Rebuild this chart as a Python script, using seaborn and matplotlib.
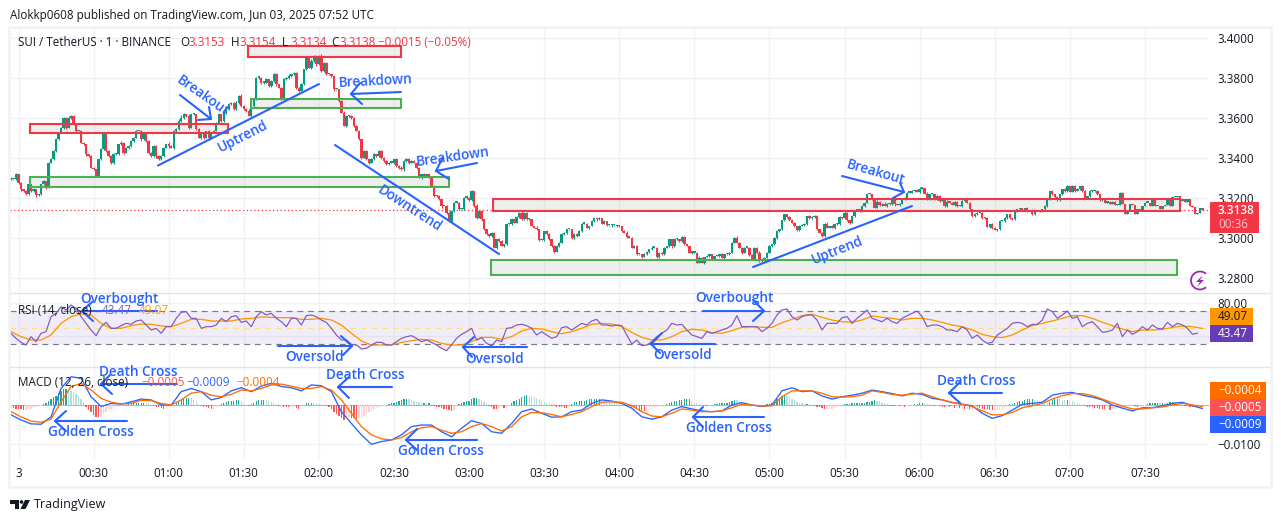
import numpy as np
import matplotlib
matplotlib.use("Agg")
import matplotlib.pyplot as plt
from matplotlib.patches import Rectangle, Polygon, Arc, Circle
import seaborn as sns

# ---------- data ----------
close_a = [3.3293,3.3293,3.3318,3.3276,3.3243,3.3235,3.3221,3.3268,3.3235,3.3243,3.3213,3.3218,3.3268,3.3285,3.3251,3.3376,
3.3393,3.3435,3.3493,3.3526,3.3551,3.3601,3.3551,3.3601,3.3610,3.3568,3.3535,3.3535,3.3476,3.3468,3.3418,3.3410,3.3351,3.3343,3.3310,
3.3393,3.3443,3.3518,3.3435,3.3410,3.3376,3.3418,3.3418,3.3468,3.3476,3.3426,3.3451,3.3460,3.3485,3.3501,3.3535,3.3535,3.3493,3.3526,
3.3485,3.3426,3.3410,3.3460,3.3410,3.3393,3.3410,3.3451,3.3468,3.3460,3.3451,3.3535,3.3543,3.3585,3.3601,3.3618,3.3610,3.3551,3.3618,
3.3618,3.3543,3.3501,3.3526,3.3501,3.3535,3.3501,3.3526,3.3535,3.3576,3.3618,3.3585,3.3626,3.3643,3.3668,3.3676,3.3643,3.3676,3.3710,
3.3660,3.3643,3.3635,3.3610,3.3660,3.3693,3.3801,3.3801,3.3776,3.3776,3.3793,3.3760,3.3785,3.3818,3.3768,3.3751,3.3693,3.3793,3.3801,
3.3810,3.3818,3.3826,3.3751,3.3735,3.3768,3.3843,3.3901,3.3851,3.3885,3.3910,3.3868,3.3910,3.3835,3.3876,3.3818,3.3818,3.3810,3.3743,
3.3743,3.3685,3.3626,3.3560,3.3610,3.3610,3.3601,3.3560,3.3535,3.3493,3.3401,3.3435,3.3393,3.3376,3.3393,3.3418,3.3410,3.3435,3.3401,
3.3385,3.3368,3.3376,3.3376,3.3393,3.3360,3.3351,3.3343,3.3385,3.3393,3.3376,3.3385,3.3376,3.3351,3.3301,3.3318,3.3310,3.3318,3.3301]
close_b = [3.3260,3.3210,3.3210,3.3193,3.3160,3.3160,3.3127,3.3085,3.3135,3.3177,3.3177,3.3143,3.3143,3.3202,3.3202,3.3188,3.3235,3.3160,
3.3102,3.3135,3.3093,3.3043,3.3018,3.3010,3.3027,3.2952,3.2993,3.2985,3.2960,3.2968,3.3068,3.3068,3.3093,3.3077,3.3105,3.3127,3.3093,
3.3127,3.3093,3.3093,3.3060,3.3052,3.3043,3.2988,3.2988,3.3035,3.3018,3.2993,3.2960,3.2932,3.2960,3.2977,3.3018,3.3027,3.3043,3.3043,
3.2998,3.3022,3.3010,3.3035,3.3072,3.3072,3.3052,3.3060,3.3085,3.3098,3.3093,3.3098,3.3072,3.3085,3.3063,3.3063,3.3063,3.3063,3.3060,
3.3060,3.3035,3.3027,3.3005,3.3002,3.2952,3.2960,3.2918,3.2918,3.2905,3.2918,3.2932,3.2943,3.2952,3.2952,3.2905,3.2927,3.2918,3.2952,
3.2960,3.2993,3.2960,3.2993,3.2993,3.2985,3.3005,3.2968,3.2960,3.2927,3.2927,3.2927,3.2877,3.2902,3.2877,3.2905,3.2910,3.2918,3.2893,
3.2910,3.2910,3.2918,3.2902,3.2918,3.2918,3.2927,3.2977,3.3002,3.2977,3.2952,3.2927,3.2952,3.2952,3.2915,3.2893,3.2952,3.2927,3.2885,
3.2893,3.2902,3.2927,3.2960,3.2968,3.3002,3.3035,3.3043,3.3088,3.3118,3.3105,3.3088,3.3077,3.3060,3.3038,3.3060,3.3065,3.3072,3.3110,
3.3098,3.3105,3.3110,3.3043,3.3027,3.3010,3.3072,3.3052,3.3060,3.3052,3.3068,3.3068,3.3105,3.3098,3.3127,3.3088,3.3077,3.3110,3.3135,
3.3143,3.3135]
close_c = [3.3160,3.3177,3.3218,3.3218,3.3193,3.3152,3.3182,3.3165,3.3172,3.3160,3.3172,3.3168,3.3202,3.3168,3.3165,3.3172,3.3193,3.3202,
3.3227,3.3227,3.3235,3.3238,3.3230,3.3247,3.3248,3.3222,3.3193,3.3218,3.3218,3.3193,3.3210,3.3185,3.3193,3.3160,3.3182,3.3177,3.3165,
3.3182,3.3160,3.3160,3.3185,3.3193,3.3177,3.3143,3.3110,3.3118,3.3127,3.3127,3.3098,3.3102,3.3055,3.3068,3.3052,3.3040,3.3043,3.3085,
3.3085,3.3102,3.3118,3.3098,3.3093,3.3135,3.3143,3.3148,3.3138,3.3148,3.3135,3.3138,3.3118,3.3135,3.3138,3.3135,3.3143,3.3160,3.3193,
3.3235,3.3218,3.3205,3.3188,3.3218,3.3243,3.3235,3.3260,3.3232,3.3260,3.3235,3.3243,3.3260,3.3235,3.3202,3.3210,3.3235,3.3235,3.3235,
3.3218,3.3188,3.3193,3.3177,3.3182,3.3172,3.3182,3.3165,3.3165,3.3227,3.3168,3.3118,3.3138,3.3168,3.3165,3.3118,3.3143,3.3138,3.3160,
3.3177,3.3177,3.3160,3.3193,3.3160,3.3160,3.3143,3.3160,3.3165,3.3202,3.3160,3.3205,3.3205,3.3210,3.3185,3.3193,3.3182,3.3193,3.3160,
3.3155,3.3118,3.3127,3.3148,3.3138]

wick_up = [12,3,8,2,4,2,6,5,3,6,3,4,3,5,2,4,6,3,8,5,3,6,4,7,5,3,4,2,3,6,2,4,3,5,2,3,6,3,7,4,3,5,6,3,8,4,6,3,5,3,6,2,7,3,4,5,
3,7,3,5,4,6,3,12,3,4,6,9,12,5,3,10,4,6,3,8,3,5,2,6,4,3,5,8,3,7,4,6,3,5,7,4,8,3,5,9,4,3,4,6,5,4,7,3,6,5,8,4,3,6,5,9,4,3,6,4,
7,3,6,10,8,3,6,7,8,4,6,4,3,5,3,2,4,7,3,5,6,4,3,4,3,5,4,3,6,8,4,6,3,5,4,3,6,3,5,4,8,3,5,7,4,6,3,5,3,7,4,3,5,3,6,4,3,2,5,3,4,3,
6,2,4,3,5,3,4,2,8,4,6,3,4,3,5,2,4,5,3,2,4,3,6,4,3,5,8,3,4,5,3,2,6,4,3,2,4,5,3,3,4,2,5,3,2,4,3,2,3,4,2,5,3,2,4,3,2,5,3,4,2,3,5,
2,3,4,2,3,6,2,3,5,4,2,3,5,2,4,6,3,2,4,3,5,2,3,4,2,5,3,4,6,3,2,4,3,2,6,3,2,5,3,4,2,5,3,6,3,2,4,3,2,6,4,5,2,3,4,5,3,2,6,3,2,4,3,
2,3,5,3,2,4,3,6,8,3,2,4,6,3,2,5,7,3,4,2,5,3,6,2,4,3,9,3,2,8,4,2,3,5,3,4,7,2,3,4,2,3,6,2,4,8,3,2,4,5,2,3,4,5,3,2,4,3,4,6,2,3,7,
3,4,2,5,3,4,2,6,3,2,3,4,5,3,2,4,3,2,5,3,4,2,3,5,3,6,2,3,5,4,2,3,4,2,5,3,4,3,2,5,3,6,4,3,2,3,5,3,2,3,4,6,2,3,5,3,2,4,3,5,2,3,4,
2,5,3,2,4,3,2,3,5,2,3,4,3,5,2,3,1]
wick_dn = [3,5,2,4,6,3,4,8,3,5,6,2,4,5,8,2,3,2,4,5,3,4,6,3,5,3,4,5,3,4,6,5,3,4,7,3,2,4,5,3,6,4,3,2,4,6,3,5,3,4,3,2,6,3,5,4,3,6,
12,3,5,4,3,10,2,4,3,5,3,4,3,6,3,5,4,3,5,7,3,12,4,3,2,6,3,4,5,2,3,4,3,6,4,5,3,2,3,4,3,5,6,4,3,5,4,3,8,3,5,3,4,6,4,3,5,3,2,4,5,3,
4,3,6,5,3,4,2,5,3,6,2,4,3,2,3,5,4,3,2,4,6,3,5,4,2,5,3,4,6,3,5,4,2,6,3,5,4,6,3,5,3,2,4,3,4,5,3,2,6,4,3,5,8,2,5,3,6,4,3,4,2,3,5,
2,4,3,5,4,7,2,3,5,4,3,6,4,2,3,5,3,2,4,3,5,2,4,3,5,2,3,4,2,5,3,4,2,3,5,2,3,4,3,6,2,3,5,4,2,3,4,3,5,2,3,6,3,4,2,5,3,9,2,3,4,5,2,
3,4,3,2,5,3,4,2,3,6,2,3,5,3,2,4,3,6,8,3,2,4,5,3,2,4,6,3,2,4,3,5,2,3,4,3,2,4,3,5,2,3,4,3,2,4,5,3,2,6,3,4,2,3,5,3,2,4,3,2,5,3,4,2,
3,5,2,6,3,4,2,3,5,2,3,4,3,2,5,3,2,4,3,5,2,3,4,3,2,5,3,6,2,3,4,5,3,2,3,4,2,3,5,2,3,4,3,6,2,3,4,5,3,2,4,3,2,5,3,2,4,3,5,2,3,4,2,3,
5,3,2,4,3,2,5,3,4,2,3,5,3,2,4,3,2,3,5,2,3,4,2,3,5,3,2,4,5,3,2,3,6,2,3,4,2,5,3,2,3,4,2,3,5,3,2,4,6,2,3,5,2,4,3,2,5,3,7,3,4,2,3,4]

rsi_a = [43.2,37.2,32.4,29.2,39.2,33.2,43.2,45.2,63.2,67.2,75.2,71.2,77.2,73.2,63.2,55.2,47.2,40.4,51.2,56.4,49.2,49.2,52.4,55.2,54,58,59.2,
53.2,47.2,49.2,43.2,51.2,51.2,61.2,68.4,69.2,61.2,61.2,49.2,51.2,51.2,53.2,61.2,57.2,63.2,64.4,56.4,58,51.2,63.2,69.2,65.2,67.2,61.2,
57.2,51.2,61.2,61.2,53.2,64.4,65.2,63.2,59.2,56.4,49.2,41.2,35.2,35.2,30,29.2,24.4,25.2,29.2,32.4,32.4,29.2,29.2,33.2,37.2,39.2,40.4,
37.2,33.2,35.2]
rsi_b = [32.4,29.2,25.2,22.4,29.2,37.2,42,45.2,49.2,35.2,38,31.2,28,35.2,33.2,49.2,50,53.2,54,52.4,49.2,41.2,45.2,41.2,37.2,39.2,50,51.2,47.2,
51.2,55.2,53.2,58,60,53.2,53.2,52,53.2,52.4,41.2,30.4,35.2,28.4,29.2,33.2,39.2,43.2,47.2,55.2,53.2,54,47.2,41.2,39.2,37.2,45.2,43.2,45.2,
47.2,49.2,53.2,64.4,51.2,51.2,51.2,51.2,45.2,49.2,55.2,65.2,71.2,72.4,63.2,59.2,63.2,65.2,65.2,59.2,47.2,55.2,55.2,55.2,62,63.2,55.2,61.2]
rsi_c = [66,71.2,61.2,59.2,57.2,61.2,57.2,55.2,61.2,64.4,67.2,70,63.2,51.2,53.2,53.2,51.2,47.2,47.2,45.2,51.2,47.2,37.2,41.2,35.2,31.2,32.4,
41.2,45.2,49.2,55.2,56.4,55.2,51.2,54,54,59.2,72.4,69.2,61.2,65.2,70,61.2,63.2,51.2,55.2,57.2,51.2,44.4,45.2,47.2,55.2,39.2,47.2,42,45.2,
51.2,47.2,53.2,49.2,48.4,56.4,51.2,55.2,53.2,49.2,42,43.47]

rsi_ma_a = [45.2,39.2,35.2,35.2,41.2,55.2,63.2,66.4,65.2,55.2,49.2,49.2,52.4,54.4,54,52,51.2,55.2,60,60,58,58,58,60.4,61.2,62.8,62.4,62,62,60,
60,61.2,59.2,53.2,43.2,34,29.2,29.2,29.2,32.4,34.4,36,35.2]
rsi_ma_b = [31.2,29.2,29.2,33.2,38.4,38.4,36,39.2,46,49.2,48.4,45.2,42.8,45.2,49.2,54,55.2,54.4,51.2,44.4,38.4,35.2,35.2,39.2,45.2,48,47.2,44,
43.2,46.4,50.4,51.2,50.4,50.4,56,60,64.4,66,62.4,59.2,57.2,56.4,59.2]
rsi_ma_c = [64,62.4,61.2,59.2,61.2,61.2,59.2,56.4,53.2,51.2,47.2,42,39.2,38,41.2,47.2,52.4,55.2,58,61.2,64.4,64.4,61.2,56.4,52.4,48.4,45.2,47.2,
47.2,48,50.4,52,51.2,49.07]

macd_a = [-25,-38,-48,-49,-30,42,72,68,21,-4,4,2,8,15,13,0,0,34,42,34,13,19,36,44,34,48,55,47,44,36,51,49,34,-17,-47,-76,-100,-93,-89,-76,-55,-51,-51]
macd_b = [-68,-81,-59,-40,-47,-68,-72,-47,-17,-10,-21,-31,-30,-17,-13,4,13,10,4,-8,-30,-36,-30,-13,-4,-10,-15,-17,-15,0,6,0,-4,0,36,44,34,36,23,15,21,25,30]
macd_c = [38,34,29,23,30,27,17,13,6,2,-2,-21,-34,-27,-13,2,4,7,25,30,32,25,20,13,0,-8,-15,-7,-7,-2,4,7,-2,-9]
signal_a = [-17,-30,-41,-44,-36,8,47,55,38,17,7,3,4,12,11,4,0,13,30,34,25,21,27,38,36,42,51,53,48,42,42,47,38,13,-21,-55,-76,-86,-89,-83,-68,-58,-55]
signal_b = [-64,-72,-68,-55,-47,-55,-66,-55,-30,-19,-20,-24,-30,-24,-17,-4,7,8,7,-2,-17,-28,-30,-21,-10,-13,-17,-17,-15,-7,2,0,-3,-2,21,36,36,36,30,21,20,21,25]
signal_c = [36,32,27,25,28,30,21,13,7,2,-4,-15,-25,-25,-19,-7,-2,4,15,24,29,29,24,15,6,-3,-10,-10,-7,-5,0,4,0,-4]

hist_vals = [-7,-8,-9,-10,-11,-12,-12,-11,-9,-8,-6,-4,-2,2,6,10,15,20,24,30,36,40,40,38,36,33,28,22,15,8,-5,-12,-18,-25,-30,-31,-28,-22,-17,-13,-9,-7,-5,-4,-2,
1,2,3,3,4,5,5,6,6,5,4,1,-3,-5,-6,-8,-10,-8,-5,-3,-1,4,10,15,17,18,18,17,14,10,3,-2,-4,-6,-8,-10,-9,-6,-2,3,6,8,9,10,11,12,12,8,3,-1,-2,2,6,9,12,13,13,12,10,7,5,2,
-3,-3,-4,-5,-6,-6,-6,-8,-9,-3,1,4,5,6,5,4,3,2,0,-2,-5,-10,-18,-24,-28,-34,-38,-32,-30,-32,-33,-35,-34,-32,-28,-22,-18,-15,-11,-8,-5,-3,-2,1,3,5,6,8,10,12,14,15,14,12,10,8,7,6,6,5,5,
-2,-3,-4,-6,-8,-9,-11,-13,-14,-12,-5,3,5,7,9,11,14,18,18,15,12,8,5,-3,-6,-9,-10,-8,-6,-8,-8,-3,5,9,12,16,20,23,25,24,22,20,18,14,10,8,6,2,-2,-3,-4,-5,-6,-7,-8,-6,2,7,8,9,10,11,13,14,14,14,14,14,13,12,10,8,7,6,4,2,1,0,-1,-2,-4,-8,-10,-12,-14,-16,-15,-12,-10,-8,-5,-3,-2,-2,
2,4,7,9,11,12,13,14,14,14,10,6,4,3,1,-1,-2,-2,1,2,3,4,4,5,6,8,10,13,12,10,7,5,3,2,-1,-2,-2,-2,-1,-1,2,3,6,10,14,18,22,25,23,20,16,12,8,5,4,3,3,2,1,-2,-4,-6,-8,-9,-9,-9,-9,-8,-6,-3,1,3,3,3,4,4,4,4,
5,6,7,8,10,12,10,9,6,4,2,-1,-2,-3,-2,-3,-3,-4,-3,-2,-2,2,3,5,5,4,3,2,1,-2,-2,-3,-4,-5,-5,-6,-6,-7,-7,-8,-8,-9,-9,-10,-9,-5,-6,-7,-9,-10,-11,-12,-13,-13,-13,-12,-10,-8,-4,2,3,5,7,9,11,12,14,15,15,13,12,10,8,6,5,8,12,14,15,14,13,12,12,10,9,7,5,3,-1,-3,-4,-5,-6,-7,-8,-9,-10,-11,-11,-12,-12,-11,-8,-5,-5,-4,-3,-2,-2,-3,-5,-4,-3,-2,2,4,5,6,6,5,5,4,6,7,8,7,6,3,2,-2,-3,-4,-5,-6,-6,-5]

time_labels = ["3","00:30","01:00","01:30","02:00","02:30","03:00","03:30","04:00","04:30","05:00","05:30","06:00","06:30","07:00","07:30"]
time_ticks = [0,30,60,90,120,150,180,210,240,270,300,330,360,390,420,450]
price_ticks = [3.40,3.38,3.36,3.34,3.32,3.30,3.28]
last_close = 3.3138

# ---------- colours ----------
UP, DOWN = "#089981", "#F23645"
BLUE, ORANGE, PURPLE = "#2962FF", "#FF6D00", "#673AB7"
GRID, SEP, INK, FRAME = "#F1F2F4", "#E3E4E8", "#131722", "#F3F3F4"
FONT = ["Open Sans", "DejaVu Sans"]

sns.set_theme(style="white")
plt.rcParams["font.family"] = FONT
W, H = 1281, 522
fig = plt.figure(figsize=(W/100, H/100), dpi=100, facecolor="white")

def pane(top, bottom, left=10, right=1209):
    return fig.add_axes([left/W, 1-bottom/H, (right-left)/W, (bottom-top)/H])

ax_p = pane(27, 293)
ax_r = pane(293, 367)
ax_m = pane(367, 459)
XLIM = (-3.396, 475.6)

closes = np.array(close_a + close_b + close_c)
n = len(closes)
minutes = np.arange(-3, -3 + n)
opens = np.r_[closes[0], closes[:-1]]
def fit(v):
    v = np.array(v[:n], float)
    return np.r_[v, np.zeros(n - len(v))]
highs = np.maximum(opens, closes) + fit(wick_up) * 1e-4
lows = np.minimum(opens, closes) - fit(wick_dn) * 1e-4
cols = [UP if c >= o else DOWN for o, c in zip(opens, closes)]

for ax in (ax_p, ax_r, ax_m):
    ax.set_xlim(*XLIM)
    for s in ax.spines.values():
        s.set_visible(False)
    ax.set_facecolor("white")
    ax.set_xticks(time_ticks)
    ax.grid(True, color=GRID, linewidth=1.0)
    ax.set_axisbelow(True)
    ax.yaxis.tick_right()
    ax.tick_params(length=0, labelbottom=False, labelright=True, labelsize=8.4, labelcolor=INK, pad=6.2)

# price pane
ax_p.set_ylim(3.419 - 293/2000, 3.419 - 27/2000)
ax_p.set_yticks(price_ticks)
ax_p.set_yticklabels([f"{t:.4f}" for t in price_ticks])
ax_p.axhline(last_close, color=DOWN, linewidth=0.9, linestyle=(0, (1, 2)), zorder=1)
ax_p.vlines(minutes, lows, highs, colors=cols, linewidth=0.8, zorder=3)
body = np.maximum(np.abs(closes - opens), 0.0007)
ax_p.bar(minutes, body, bottom=np.minimum(opens, closes), width=0.95, color=cols, linewidth=0, zorder=4)

# RSI pane
rsi = np.array(rsi_a + rsi_b + rsi_c)
rsi_x = -3 + 2*np.arange(len(rsi))
rsi_ma = np.array(rsi_ma_a + rsi_ma_b + rsi_ma_c)
ma_x = -3 + 4*np.arange(len(rsi_ma))
ax_r.set_ylim(70 - (367-311)/0.8333, 70 + (311-293)/0.8333)
ax_r.set_yticks([80, 40])
ax_r.set_yticklabels(["80.00", ""])
ax_r.axhspan(30, 70, color="#7E57C2", alpha=0.1, linewidth=0, zorder=1)
for lvl in (70, 30):
    ax_r.axhline(lvl, color="#787B86", linewidth=0.85, linestyle=(0, (5, 4)), zorder=2)
ax_r.axhline(50, color="#FFE082", linewidth=0.85, linestyle=(0, (5, 4)), zorder=2)
ax_r.fill_between(rsi_x, rsi, 30, where=rsi < 30, color="#F23645", alpha=0.12, linewidth=0, interpolate=True, zorder=2)
ax_r.fill_between(rsi_x, rsi, 70, where=rsi > 70, color="#089981", alpha=0.12, linewidth=0, interpolate=True, zorder=2)
sns.lineplot(x=ma_x, y=rsi_ma, ax=ax_r, color="#FF9800", linewidth=0.95, errorbar=None, legend=False, zorder=3)
sns.lineplot(x=rsi_x, y=rsi, ax=ax_r, color="#7E57C2", linewidth=0.85, errorbar=None, legend=False, zorder=4)
ax_r.set_xlim(*XLIM); ax_r.set_xlabel(""); ax_r.set_ylabel("")

# MACD pane
macd = np.array(macd_a + macd_b + macd_c) * 1e-4
signal = np.array(signal_a + signal_b + signal_c) * 1e-4
line_x = -3 + 4*np.arange(len(macd))
hist = np.array(hist_vals, float) * 1e-4
hist_x = -3 + np.arange(len(hist))
hcols = []
for i, v in enumerate(hist):
    prev = hist[i-1] if i else v
    if v >= 0:
        hcols.append("#26A69A" if v >= prev else "#B2DFDB")
    else:
        hcols.append("#FFCDD2" if v >= prev else "#FF5252")
k = 0.393e4
ax_m.set_ylim(-(459-405)/k, (405-367)/k)
ax_m.set_yticks([-0.01, 0])
ax_m.set_yticklabels(["\u22120.0100", ""])
ax_m.axhline(0, color="#B2B5BE", linewidth=0.7, zorder=2)
ax_m.bar(hist_x, hist, width=0.5, color=hcols, linewidth=0, zorder=3)
sns.lineplot(x=line_x, y=macd, ax=ax_m, color=BLUE, linewidth=0.95, errorbar=None, legend=False, zorder=4)
sns.lineplot(x=line_x, y=signal, ax=ax_m, color=ORANGE, linewidth=0.95, errorbar=None, legend=False, zorder=5)
ax_m.set_xlim(*XLIM); ax_m.set_xlabel(""); ax_m.set_ylabel("")
ax_m.set_xticks(time_ticks)
ax_m.set_xticklabels(time_labels)
ax_m.tick_params(axis="x", labelbottom=True, pad=5.5)

# ---------- pixel overlay for drawings and texts ----------
ov = fig.add_axes([0, 0, 1, 1], zorder=10)
ov.set_xlim(0, W); ov.set_ylim(H, 0); ov.axis("off"); ov.patch.set_alpha(0)

def T(x, y, s, color=INK, size=8.4, ha="left", rot=0, weight="normal", **kw):
    ov.text(x, y, s, color=color, fontsize=size, ha=ha, va="center", rotation=rot,
            rotation_mode="anchor", fontweight=weight, family=FONT, **kw)

def L(x0, y0, x1, y1, c=BLUE, lw=1.5):
    ov.plot([x0, x1], [y0, y1], color=c, linewidth=lw, solid_capstyle="round")

def arrow(tail, tip, b1, b2):
    L(*tail, *tip); L(*b1, *tip); L(*b2, *tip)

# frame and separators
ov.add_patch(Rectangle((9, 27), 1262, 460, fill=False, edgecolor=FRAME, linewidth=2))
L(10, 293, 1270, 293, SEP, 1.0); L(10, 367, 1270, 367, SEP, 1.0)

# zones
zones = [(30,124,228,133,DOWN),(248,46,401,57,DOWN),(251,99,401,108,"#4CAF50"),(30,177,449,187,"#4CAF50"),
         (493,199,1180,211,DOWN),(491,260,1177,275,"#4CAF50")]
for x0, y0, x1, y1, c in zones:
    ov.add_patch(Rectangle((x0, y0), x1-x0, y1-y0, facecolor=(0.47,0.47,0.47,0.12), edgecolor=c, linewidth=1.5))

# trend lines
L(158,165.5,319,84); L(335,145,499,254); L(753,267,912,206)

# arrows
arrow((180,95),(211,119),(198,120),(209,107))
arrow((401,92),(351,94),(360,83),(362,104))
arrow((477,163),(436,171),(443,157),(449,179))
arrow((842,176),(904,192),(900,183),(893,198))
arrow((157,311),(82,311),(92,302),(93,321))
arrow((278,346),(352,346),(341,336),(343,355))
arrow((527,347),(463,347),(474,337),(472,357))
arrow((715,344),(651,344),(662,333),(660,353))
arrow((703,311),(764,311),(753,300),(753,321))
arrow((177,384),(101,384),(110,375),(112,394))
arrow((127,421),(55,421),(66,411),(66,431))
arrow((392,387),(338,387),(349,377),(349,398))
arrow((477,440),(406,440),(417,429),(417,450))
arrow((764,417),(693,417),(703,407),(703,427))
arrow((1002,393),(949,393),(960,382),(960,403))

# annotation labels
AN = dict(color=BLUE, size=9.8, ha="center", weight="semibold")
for x, y, s, r in [(119,299,"Overbought",0),(734,298,"Overbought",0),(138,372,"Death Cross",0),(365,375,"Death Cross",0),
                   (976,381,"Death Cross",0),(91,432,"Golden Cross",0),(441,451,"Golden Cross",0),(729,428,"Golden Cross",0),
                   (315,357,"Oversold",0),(495,359,"Oversold",0),(683,355,"Oversold",0),(375,81,"Breakdown",3),
                   (453,157,"Breakdown",8),(203,96,"Breakout",-35),(876,172,"Breakout",-16),(243,136,"Uptrend",27),
                   (837,250,"Uptrend",22),(410,209,"Downtrend",-33)]:
    T(x, y, s, rot=r, **AN)

# header and legends
T(10, 15, "Alokkp0608 published on TradingView.com, Jun 03, 2025 07:52 UTC", size=8.35)
T(18, 42, "SUI / TetherUS \u00b7 1 \u00b7 BINANCE", size=8.35)
for x, lab, val in [(180,"O","3.3153"),(231,"H","3.3154"),(282,"L","3.3134"),(331,"C","3.3138")]:
    T(x, 42, lab, size=8.35)
    T(x+8, 42, val, color=DOWN, size=8.35)
T(378, 42, "\u22120.0015 (\u22120.05%)", color=DOWN, size=8.4)
T(18, 310, "RSI (14, close)", size=8.35)
T(102, 310, "43.47", color="#7E57C2", size=8.35)
T(139, 310, "49.07", color="#FF9800", size=8.35)
T(18, 382, "MACD (12, 26, close)", size=8.35)
T(141, 382, "\u22120.0005", color="#FF5252", size=8.35)
T(186, 382, "\u22120.0009", color=BLUE, size=8.35)
T(236, 382, "\u22120.0004", color=ORANGE, size=8.35)

# scale labels
def box(x0, y0, x1, y1, c):
    ov.add_patch(Rectangle((x0, y0), x1-x0, y1-y0, facecolor=c, edgecolor="none"))
box(1210, 202, 1259, 233, DOWN)
T(1218, 211, "3.3138", color="white", weight="semibold", size=8.4)
T(1218, 225, "00:36", color="#FBC4CA", size=8.4)
box(1210, 308, 1253, 325, "#FF9800"); T(1218, 316.5, "49.07", size=8.4)
box(1210, 325, 1253, 342, PURPLE); T(1218, 333.5, "43.47", color="white", size=8.4)
for y, c, s in [(382, ORANGE, "\u22120.0004"), (399, "#FF5252", "\u22120.0005"), (416, BLUE, "\u22120.0009")]:
    box(1210, y, 1266, y+17, c); T(1218, y+8.5, s, color="white", size=8.4)

# lightning badge
ov.add_patch(Arc((1200, 280.5), 18, 18, theta1=48, theta2=312, edgecolor="#9C27B0", linewidth=1.3))
ov.add_patch(Polygon([(1203,275),(1196,282),(1200,282),(1197,287),(1204,280),(1200,280)], closed=True, color="#9C27B0", linewidth=0))

# footer logo
ov.add_patch(Polygon([(10,500),(19,500),(19,509),(15,509),(15,503.5),(10,503.5)], closed=True, color=INK, linewidth=0))
ov.add_patch(Circle((21.5,502), 1.8, color=INK, linewidth=0))
ov.add_patch(Polygon([(25,500),(30,500),(25.5,509),(20.5,509)], closed=True, color=INK, linewidth=0))
T(34, 504.5, "TradingView", size=9)

fig.savefig("out.png", dpi=100)
